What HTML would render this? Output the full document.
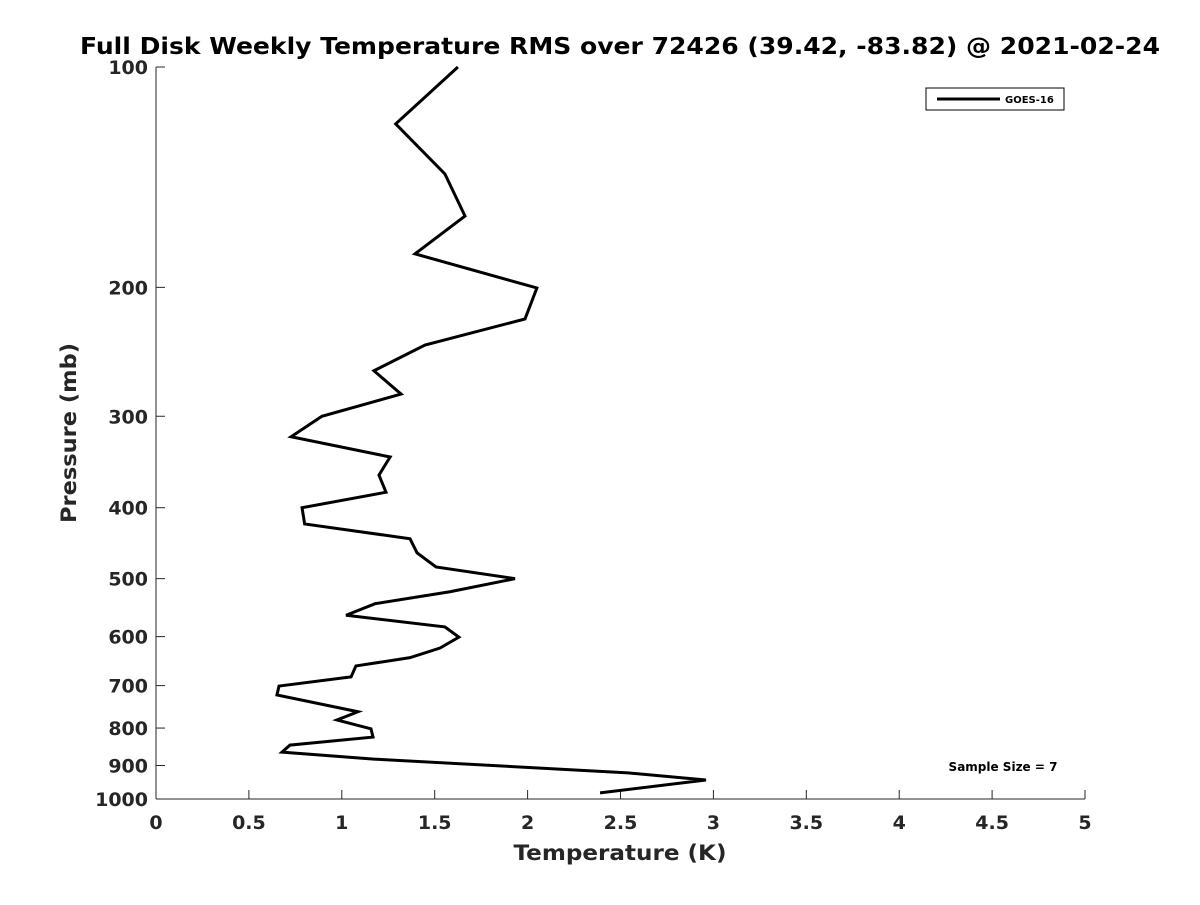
<!DOCTYPE html>
<html><head><meta charset="utf-8"><style>
body{margin:0;background:#fff;}
svg text{font-family:"DejaVu Sans","Liberation Sans",sans-serif;font-weight:bold;fill:#262626;}
</style></head><body>
<svg id="chart" width="1200" height="900">
<rect width="1200" height="900" fill="#fff"/>
<text x="620" y="54" text-anchor="middle" font-size="23" textLength="1080" lengthAdjust="spacingAndGlyphs" style="fill:#000">Full Disk Weekly Temperature RMS over 72426 (39.42, -83.82) @ 2021-02-24</text>
<g id="axes"></g>
<polyline id="series" fill="none" stroke="#000" stroke-width="3"/>
<text x="620" y="860" text-anchor="middle" font-size="21" textLength="213" lengthAdjust="spacingAndGlyphs">Temperature (K)</text>
<text transform="translate(76,433) rotate(-90)" text-anchor="middle" font-size="21" textLength="180" lengthAdjust="spacingAndGlyphs">Pressure (mb)</text>
<g>
<rect x="926" y="88" width="138" height="22" fill="#fff" stroke="#000" stroke-width="1"/>
<line x1="937" y1="99" x2="1000" y2="99" stroke="#000" stroke-width="3"/>
<text x="1005" y="103" font-size="10" style="fill:#000">GOES-16</text>
</g>
<text x="1003" y="771" text-anchor="middle" font-size="12" style="fill:#000">Sample Size = 7</text>
</svg>
<script>
const xTicks=[0,0.5,1,1.5,2,2.5,3,3.5,4,4.5,5];
const yTicks=[100,200,300,400,500,600,700,800,900,1000];
const temps=[1.625,1.29,1.555,1.663,1.394,2.05,1.986,1.448,1.173,1.319,0.893,0.727,1.26,1.2,1.238,0.786,0.80,1.367,1.405,1.507,1.932,1.582,1.179,1.023,1.555,1.63,1.529,1.367,1.076,1.05,0.662,0.651,1.087,0.974,1.157,1.168,0.721,0.678,1.173,2.54,2.96,2.39];
const pressures=[100,119.6,140,159.8,180,200.4,220.9,239.8,260,279.8,300,320,341,361,381,400,421,441,461,482,500,521,541,561,582,601,622,641,658,681,701,721,760,780,802,823,844,863,882,921,942,981];
const X0=156,X1=1085,Y0=67,Y1=799;
const xs=v=>X0+(v-0)/(5-0)*(X1-X0);
const ys=p=>Y0+(Math.log10(p)-2)*(Y1-Y0);
const NS="http://www.w3.org/2000/svg";
const ax=document.getElementById('axes');
function mk(t,a){const e=document.createElementNS(NS,t);for(const k in a)e.setAttribute(k,a[k]);ax.appendChild(e);return e;}
let l=mk('line',{x1:X0,y1:Y1,x2:X1,y2:Y1,stroke:'#262626','stroke-width':1});


l=mk('line',{x1:X0,y1:Y0,x2:X0,y2:Y1,stroke:'#262626','stroke-width':1});


xTicks.forEach(v=>{const x=xs(v);
 mk('line',{x1:x,y1:Y1,x2:x,y2:Y1-9,stroke:'#262626'});
 const t=mk('text',{x:x,y:Y1+30,'text-anchor':'middle','font-size':19});t.textContent=v;
 
 });
yTicks.forEach(v=>{const y=ys(v);
 mk('line',{x1:X0,y1:y,x2:X0+9,y2:y,stroke:'#262626'});
 const t=mk('text',{x:X0-8,y:y+7,'text-anchor':'end','font-size':19});t.textContent=v;
 
 });
document.getElementById('series').setAttribute('points',temps.map((t,i)=>xs(t)+','+ys(pressures[i])).join(' '));
</script>
</body></html>
